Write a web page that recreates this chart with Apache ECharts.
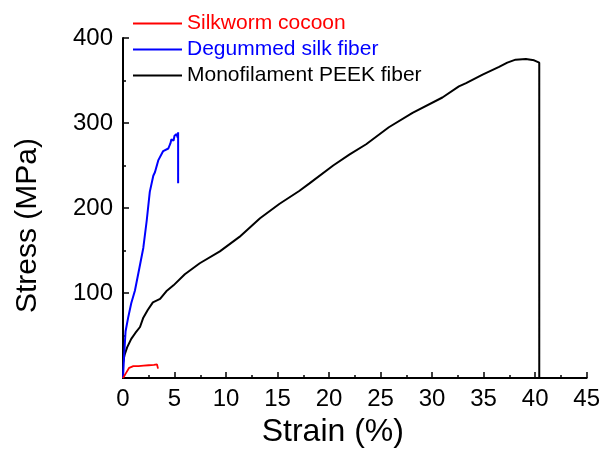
<!DOCTYPE html>
<html>
<head>
<meta charset="utf-8">
<script src="https://cdn.jsdelivr.net/npm/echarts@6/dist/echarts.min.js"></script>
<style>
  html, body { margin: 0; padding: 0; background: #fff; }
  #chart { width: 603px; height: 453px; }
</style>
</head>
<body>
<div id="chart"></div>
<script>
// series names
var seriesNames = ['Silkworm cocoon', 'Degummed silk fiber', 'Monofilament PEEK fiber'];
var seriesColors = ['#ff0000', '#0000ff', '#000000'];

// silkworm cocoon (strain %, stress MPa)
var cocoonStrain = [0, 0.15, 0.3, 0.6, 1.0, 1.5, 2.0, 2.5, 3.0, 3.3, 3.4, 3.4];
var cocoonStress = [0, 3, 6, 12, 14, 14, 14.5, 15, 15.5, 16, 17.5, 11];

// degummed silk fiber
var silkStrain = [0, 0.1, 0.25, 0.5, 0.8, 1.16, 1.6, 1.97, 2.3, 2.6, 2.94, 3.1, 3.42, 3.9, 4.4, 4.6, 4.7, 4.9, 5.0, 5.2, 5.3, 5.35, 5.35];
var silkStress = [0, 25, 55, 71, 88, 103, 130, 153, 185, 219, 238, 242, 256, 267, 270, 276, 281, 279, 285, 287, 283, 289, 229];

// monofilament PEEK fiber
var peekStrain = [0, 0.15, 0.4, 0.8, 1.2, 1.65, 1.97, 2.4, 2.9, 3.6, 4.2, 4.9, 6.0, 7.45, 9.4, 11.3, 13.3, 15.2, 17.1, 18.1, 20.4, 22.0, 23.6, 25.8, 28.1, 31.0, 32.6, 33.3, 34.9, 36.5, 37.3, 38.1, 39.1, 39.9, 40.4, 40.4];
var peekStress = [18, 27, 36, 46, 53, 60, 71, 80, 89, 93, 102, 109, 122, 135, 149, 166, 188, 205, 220, 229, 250, 263, 275, 295, 312, 330, 343, 347, 357, 366, 371, 374.5, 375.3, 373.7, 371, 0];

function pairs(xs, ys) {
  return xs.map(function (x, i) { return [x, ys[i]]; });
}

var chart = echarts.init(document.getElementById('chart'));
var font = 'Liberation Sans, Arial, sans-serif';

chart.setOption({
  animation: false,
  grid: { left: 123, right: 15, top: 38, bottom: 74 },
  legend: {
    orient: 'vertical',
    left: 133,
    top: 13,
    padding: 0,
    itemWidth: 49,
    itemHeight: 2,
    itemGap: 5,
    icon: 'rect',
    textStyle: { fontFamily: font, fontSize: 21 },
    data: seriesNames.map(function (n, i) {
      return { name: n, textStyle: { color: seriesColors[i] } };
    })
  },
  xAxis: {
    type: 'value',
    min: 0,
    max: 45,
    interval: 5,
    name: 'Strain (%)',
    nameLocation: 'middle',
    nameGap: 38,
    nameTextStyle: { fontFamily: font, fontSize: 32, color: '#000', padding: [0, 44, 0, 0] },
    axisLine: { lineStyle: { color: '#000', width: 2 } },
    axisTick: { inside: true, length: 6, lineStyle: { color: '#000', width: 1.5 } },
    minorTick: { show: true, splitNumber: 2, length: 3, lineStyle: { color: '#000', width: 1.5 } },
    axisLabel: { fontFamily: font, fontSize: 24, color: '#000', margin: 9 },
    splitLine: { show: false }
  },
  yAxis: {
    type: 'value',
    min: 0,
    max: 400,
    interval: 100,
    name: 'Stress (MPa)',
    nameLocation: 'middle',
    nameGap: 80,
    nameTextStyle: { fontFamily: font, fontSize: 30, color: '#000', padding: [0, 35, 0, 0] },
    axisLine: { show: true, lineStyle: { color: '#000', width: 2 } },
    axisTick: { show: true, inside: true, length: 6, lineStyle: { color: '#000', width: 1.5 } },
    minorTick: { show: true, splitNumber: 2, length: 3, lineStyle: { color: '#000', width: 1.5 } },
    axisLabel: { fontFamily: font, fontSize: 24, color: '#000', margin: 10, showMinLabel: false },
    splitLine: { show: false }
  },
  series: [
    { name: seriesNames[0], type: 'line', data: pairs(cocoonStrain, cocoonStress), symbol: 'none',
      lineStyle: { color: seriesColors[0], width: 1.8 }, itemStyle: { color: seriesColors[0] }, z: 4 },
    { name: seriesNames[1], type: 'line', data: pairs(silkStrain, silkStress), symbol: 'none',
      lineStyle: { color: seriesColors[1], width: 2 }, itemStyle: { color: seriesColors[1] }, z: 3 },
    { name: seriesNames[2], type: 'line', data: pairs(peekStrain, peekStress), symbol: 'none',
      lineStyle: { color: seriesColors[2], width: 2 }, itemStyle: { color: seriesColors[2] }, z: 2 }
  ]
});
</script>
</body>
</html>
